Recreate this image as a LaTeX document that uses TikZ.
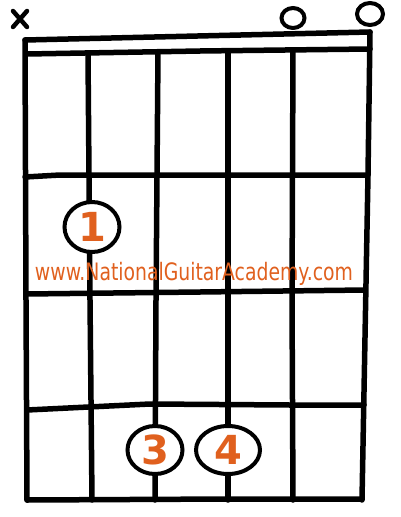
\documentclass[tikz,border=0pt]{standalone}
\usepackage{fontspec}
\setmainfont{DejaVu Sans}
\usetikzlibrary{shapes.geometric}
\definecolor{ngaorange}{HTML}{E0601E}
\begin{document}
\begin{tikzpicture}[x=1pt,y=-1pt,
  gridline/.style={line width=5.5pt, line cap=round, line join=round, black},
  finger/.style={ellipse, draw, line width=4pt, fill=white, inner sep=0pt,
     minimum height=48pt, text=ngaorange, font=\fontsize{40}{40}\selectfont\bfseries},
  openmark/.style={ellipse, draw, line width=4pt, inner sep=0pt}]
\useasboundingbox (0,0) rectangle (400,517);
% nut
\draw[gridline] (25,40) -- (370,32);
\draw[gridline] (27,54) -- (200,51) -- (370,49);
% borders
\draw[gridline] (25,40) -- (26,300) -- (27,500);
\draw[gridline] (370,32) -- (368,175) -- (362,500);
\draw[gridline] (27,500) -- (230,499) -- (362,499);
% frets
\draw[gridline] (25,177) -- (60,175) -- (368,175);
\draw[gridline] (26,294) -- (200,292) -- (365,290);
\draw[gridline] (27,410) -- (150,404) -- (290,405) -- (364,405);
% strings
\draw[gridline] (88,54) -- (90,300) -- (92,500);
\draw[gridline] (158,52) -- (156,300) -- (155,500);
\draw[gridline] (228,51) -- (228,500);
\draw[gridline] (293,50) -- (292,300) -- (293,500);
% top marks
\draw[line width=4.5pt, line cap=round] (13,11) -- (27,27) (27,11) -- (13,27);
\node[openmark, minimum width=23pt, minimum height=20pt] (o5) at (293,18) {};
\node[openmark, minimum width=26pt, minimum height=22pt] (o6) at (370,14) {};
% fingers
\node[finger, minimum width=55pt, minimum height=50pt] (f1) at (92,227) {1};
\node[finger, minimum width=55pt] (f3) at (155,450) {3};
\node[finger, minimum width=64pt] (f4) at (228,450) {4};
% watermark
\node[anchor=base, text=ngaorange, inner sep=0pt] (wm) at (194,280)
  {\resizebox{318pt}{\height}{\fontsize{24}{24}\selectfont www.NationalGuitarAcademy.com}};
\end{tikzpicture}
\end{document}
